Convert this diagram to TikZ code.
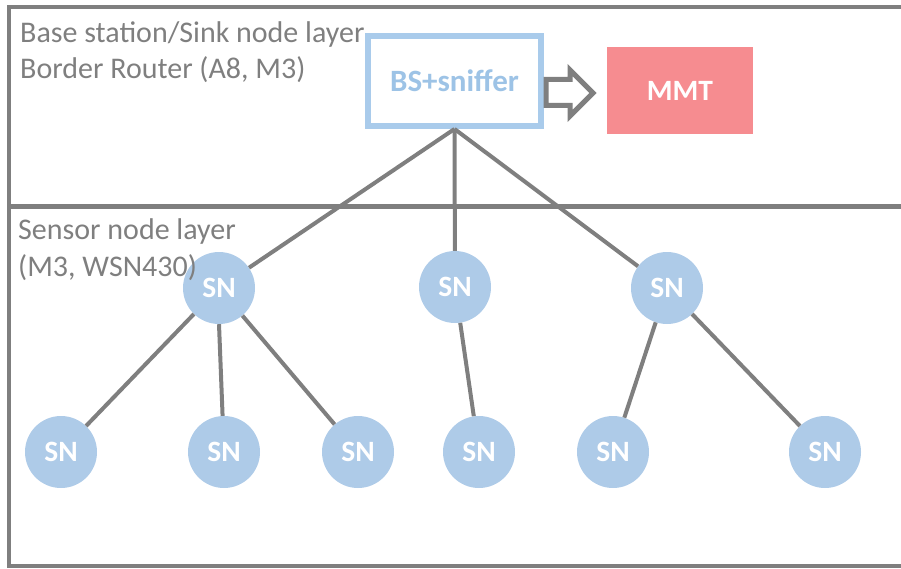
\documentclass[tikz,border=0pt]{standalone}
\usepackage{fontspec}
\setmainfont{Carlito}
\usetikzlibrary{positioning}

\definecolor{linegray}{HTML}{7F7F7F}
\definecolor{snblue}{HTML}{AECBE8}
\definecolor{bsblue}{HTML}{A9CBEB}
\definecolor{bstext}{HTML}{9DC3E6}
\definecolor{mmtred}{HTML}{F68C90}

\begin{document}
\begin{tikzpicture}[x=1pt, y=-1pt,
        sn/.style = {circle, fill=snblue, minimum size=72pt, inner sep=0pt, text=white, font=\fontsize{29.5}{32}\selectfont\bfseries},
        bsbox/.style = {draw=bsblue, line width=6pt, fill=white, minimum width=173pt, minimum height=90pt, inner sep=0pt, text=bstext, font=\fontsize{31}{34}\selectfont\bfseries},
        mmtbox/.style = {fill=mmtred, minimum width=146pt, minimum height=87pt, inner sep=0pt, text=white, font=\fontsize{29.5}{32}\selectfont\bfseries},
        layer/.style = {anchor=base west, inner sep=0pt, text=linegray, font=\fontsize{30}{34}\selectfont},
        frame/.style = {draw=linegray, line width=4pt},
        link/.style = {draw=linegray, line width=4pt},
        hollow/.style = {draw=linegray, line width=5pt, fill=white, line join=miter}]
        \useasboundingbox (0,0) rectangle (901,569);

        % Layers
        \draw[frame] (901,7) -| (9,565.5) -- (901,565.5);
        \draw[frame, line width=5pt] (9,207) -- (901,207);

        % Nodes
        \node[bsbox]  (bs)  at (454.5,81) {BS+sniffer};
        \node[mmtbox] (mmt) at (680,90.5) {MMT};

        \node[sn] (sn1) at (219,288) {SN};
        \node[sn] (sn2) at (455,287) {SN};
        \node[sn] (sn3) at (667,288) {SN};

        \node[sn] (sn11) at (61,452)  {SN};
        \node[sn] (sn12) at (224,452) {SN};
        \node[sn] (sn13) at (358,452) {SN};
        \node[sn] (sn21) at (479,452) {SN};
        \node[sn] (sn31) at (613,452) {SN};
        \node[sn] (sn32) at (825,452) {SN};

        % Layer labels
        \node[layer] (bslayer) at (20,43) {Base station/Sink node layer};
        \node[layer] (router)  at (20,79) {Border Router (A8, M3)};
        \node[layer] (snlayer) at (18,240) {Sensor node layer};
        \node[layer] (snhw)    at (18,276) {(M3, WSN430)};

        % Connections
        \draw[hollow] (546,79.5) -- (570,79.5) -- (570,70) -- (593,93) -- (570,116) -- (570,105.5) -- (546,105.5) -- cycle;
        \draw[link] (bs.south) -- (sn1);
        \draw[link] (bs.south) -- (sn2);
        \draw[link] (bs.south) -- (sn3);
        \draw[link] (sn1) -- (sn11);
        \draw[link] (sn1.south) -- (sn12);
        \draw[link] (sn1) -- (sn13);
        \draw[link] (sn2) -- (sn21);
        \draw[link] (sn3) -- (sn31);
        \draw[link] (sn3) -- (sn32);
      \end{tikzpicture}
\end{document}
